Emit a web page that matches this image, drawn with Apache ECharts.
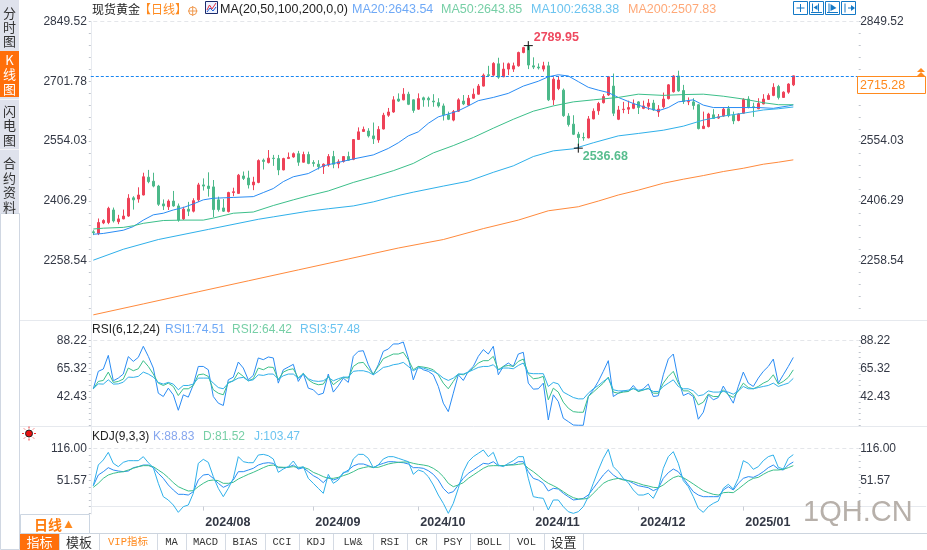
<!DOCTYPE html>
<html>
<head>
<meta charset="utf-8">
<style>html,body{margin:0;padding:0;background:#fff}#main{width:927px;height:550px}</style>
<script src="https://cdn.jsdelivr.net/npm/echarts@6/dist/echarts.min.js"></script>
</head>
<body>
<div id="main"></div>
<script>
// price ticks and indicator ticks as printed on the axes
const priceTicks = [2849.52, 2701.78, 2554.03, 2406.29, 2258.54]
const rsiTicks = [88.22, 65.32, 42.43]
const kdjTicks = [116.00, 51.57]
const monthLabels = ['2024/08', '2024/09', '2024/10', '2024/11', '2024/12', '2025/01']
const monthBars = [22, 44, 65, 88, 109, 130]

const opens = [2330,2326,2352,2353,2384,2355,2362,2369,2414,2411,
  2421,2465,2455,2443,2399,2392,2406,2394,2362,2386,
  2381,2409,2446,2443,2441,2409,2389,2380,2427,2425,
  2468,2463,2446,2452,2507,2501,2512,2511,2483,2511,
  2515,2523,2502,2521,2501,2497,2491,2495,2516,2498,
  2504,2516,2509,2558,2578,2579,2567,2557,2584,2618,
  2626,2658,2656,2670,2656,2633,2661,2660,2653,2649,
  2641,2619,2606,2628,2653,2643,2660,2670,2690,2718,
  2717,2745,2713,2732,2732,2740,2773,2788,2740,2737,
  2732,2740,2656,2684,2680,2616,2596,2571,2563,2562,
  2609,2629,2649,2668,2690,2608,2632,2633,2635,2651,
  2635,2640,2648,2626,2639,2659,2676,2715,2679,2651,
  2651,2644,2585,2590,2619,2611,2616,2634,2618,2605,
  2623,2658,2639,2634,2646,2657,2667,2689,2662,2675,
  2693]
const closes = [2328,2353,2358,2388,2357,2362,2369,2413,2409,2421,
  2466,2454,2443,2398,2394,2406,2394,2359,2386,2381,
  2407,2446,2443,2437,2385,2385,2381,2427,2429,2470,
  2462,2446,2453,2506,2504,2512,2511,2483,2511,2514,
  2523,2502,2521,2499,2499,2491,2497,2516,2497,2503,
  2516,2507,2558,2577,2583,2567,2560,2583,2618,2626,
  2656,2653,2670,2645,2630,2659,2656,2656,2651,2641,
  2619,2608,2627,2656,2646,2660,2670,2690,2717,2716,
  2746,2712,2732,2745,2740,2773,2785,2742,2737,2735,
  2740,2656,2707,2705,2617,2595,2571,2563,2562,2609,
  2628,2647,2664,2713,2623,2631,2633,2637,2646,2637,
  2641,2648,2631,2633,2658,2693,2715,2678,2652,2652,
  2642,2585,2591,2621,2610,2614,2633,2617,2604,2621,
  2657,2637,2637,2647,2658,2667,2687,2662,2675,2695,
  2715.28]
const lows = [2322,2322,2349,2349,2353,2349,2361,2367,2385,2402,
  2420,2450,2440,2394,2384,2384,2392,2355,2359,2369,
  2378,2404,2432,2417,2366,2380,2379,2378,2418,2424,
  2458,2437,2433,2450,2484,2499,2493,2470,2482,2510,
  2513,2493,2501,2497,2491,2484,2473,2491,2487,2487,
  2501,2506,2507,2557,2577,2563,2547,2550,2583,2614,
  2624,2651,2655,2643,2624,2631,2639,2639,2639,2637,
  2605,2606,2603,2626,2643,2641,2658,2669,2689,2713,
  2715,2708,2712,2717,2725,2738,2771,2732,2732,2731,
  2726,2653,2643,2680,2614,2590,2569,2536.68,2555,2561,
  2608,2619,2647,2666,2616,2606,2623,2621,2633,2621,
  2633,2631,2629,2614,2635,2657,2674,2676,2646,2643,
  2632,2583,2584,2588,2609,2609,2614,2613,2596,2603,
  2621,2635,2614,2633,2645,2656,2665,2657,2661,2671,
  2690]
const highs = [2334,2363,2361,2392,2390,2372,2385,2423,2418,2440,
  2476,2483,2476,2446,2410,2410,2431,2400,2392,2404,
  2413,2451,2462,2477,2458,2417,2411,2429,2439,2473,
  2479,2481,2466,2509,2511,2532,2520,2520,2513,2526,
  2526,2530,2528,2528,2507,2507,2499,2522,2530,2509,
  2517,2528,2559,2588,2590,2586,2600,2591,2624,2636,
  2665,2672,2685,2676,2657,2672,2664,2664,2670,2660,
  2647,2627,2631,2660,2668,2668,2684,2695,2721,2740,
  2749,2760,2748,2748,2748,2775,2787,2789.95,2761,2746,
  2750,2750,2712,2715,2684,2623,2618,2577,2575,2616,
  2635,2651,2670,2715,2721,2641,2651,2654,2657,2653,
  2654,2658,2656,2643,2674,2695,2717,2728,2693,2662,
  2660,2646,2627,2624,2633,2621,2637,2641,2627,2623,
  2660,2665,2649,2660,2670,2672,2697,2693,2677,2697,
  2715.5]

// moving averages read at their bends: [bar, price]
const ma20 = [[0,2324],[2,2326],[6,2334],[8,2343],[10,2359],[12,2372],[14,2376],[16,2384],[18,2390],[20,2399],
  [22,2409],[24,2413],[28,2415],[32,2417],[34,2427],[36,2437],[38,2454],[40,2466],[43,2474],[46,2493],
  [52,2510],[56,2520],[59,2536],[61,2550],[63,2567],[65,2577],[67,2598],[69,2614],[71,2621],[73,2629],
  [75,2641],[77,2654],[80,2662],[83,2672],[86,2690],[89,2702],[91,2713],[93,2718],[95,2715],[97,2701],
  [99,2687],[101,2680],[103,2674],[105,2662],[108,2647],[111,2635],[113,2629],[115,2637],[117,2651],[120,2656],
  [122,2643],[124,2637],[127,2637],[133,2637],[136,2635],[139,2641],[140,2643.54]]
const ma50 = [[0,2337],[2,2339],[6,2341],[8,2345],[10,2351],[14,2358],[18,2359],[22,2359],[24,2364],[28,2376],
  [32,2379],[36,2395],[40,2409],[43,2419],[47,2431],[52,2452],[56,2466],[60,2481],[64,2499],[68,2525],
  [72,2543],[76,2563],[80,2586],[84,2608],[88,2628],[92,2641],[96,2651],[100,2656],[105,2662],[109,2670],
  [114,2667],[118,2669],[122,2670],[126,2665],[130,2658],[134,2649],[137,2644],[140,2643.85]]
const ma100 = [[0,2260],[6,2287],[13,2311],[23,2336],[33,2361],[36,2367],[43,2381],[47,2387],[52,2394],[56,2404],
  [60,2417],[64,2428],[70,2443],[75,2455],[80,2477],[84,2493],[88,2516],[92,2530],[96,2535],[100,2550],
  [105,2567],[109,2573],[114,2581],[118,2591],[122,2606],[126,2616],[130,2623],[134,2631],[137,2634],[140,2638.38]]
const ma200 = [[0,2125],[10,2152],[21,2182],[31,2209],[41,2236],[51,2263],[61,2290],[70,2311],[78,2338],[85,2359],
  [91,2382],[97,2392],[101,2406],[105,2421],[109,2433],[114,2450],[118,2460],[122,2469],[126,2479],[130,2487],
  [134,2497],[137,2502],[140,2507.83]]

const rsi1 = [49,63.2,65.1,76.2,55.5,57.7,61,75.2,71.3,74.6,83.6,75.4,65.9,45.4,42.7,49.5,44.1,31.5,44.1,42.2,
  52.3,67.2,67.2,64.5,42.7,37.3,35.4,56.3,58.5,70.8,65.9,56.3,59.9,74.1,72.7,74.9,74.1,53.6,64.5,66.7,
  68.9,55,61.5,49.5,48.2,44.1,45.4,61,46.3,51.4,57.7,54.2,75.4,79.5,80,68.6,60.4,68.6,79.5,81.4,
  85.5,85.5,87.1,74.1,56.3,67.2,64.5,63.2,60.4,50.9,37.3,30.4,45.4,60.4,55.8,63.2,67.2,75.4,80.9,77.3,
  83.6,60.4,67.2,70,67.2,77.3,78.7,53.6,48.7,49,53.6,23.6,44.1,38.6,25,22.3,19.5,19.3,19.3,42.7,
  48.2,55,63.2,71.9,42.7,45.4,47.3,46.8,51.7,46.8,49,52.8,42.7,43.3,60.4,73.2,77.3,56.3,43.5,45.4,
  42.7,24.2,29.9,44.1,40,41.9,51.2,44.1,37.3,50.9,62.6,53.6,50.9,57.7,63.2,67.2,73.2,53.6,60.4,67.2,74.51]
const rsi2 = [49,55,55.8,62.6,54.2,55,56.9,65.9,63.7,65.3,71.9,67.2,61,53.6,51.7,53.6,50.9,43.5,49,49,
  51.7,60.4,61,59.1,48.2,45.4,44.1,54.2,55.5,62.3,59.1,55.5,57.2,65.9,64.5,66.7,66.4,56.3,62.6,64.5,
  65.3,57.7,61.5,56.3,53.6,52.3,52.8,59.1,52.3,55.5,58.3,57.7,67.2,70,70.5,65.3,61,67.2,73.5,75.4,
  77.3,77.3,78.7,72.7,64.5,67.2,66.7,65.9,64.5,60.4,53.6,49,55,61,60.4,62.6,65.9,70,71.9,71.9,
  75.4,64.5,67.2,68,67.2,71.3,73.2,61,57.2,57.7,59.1,40,49.5,46.3,38.1,33.2,30.4,29.9,29.9,42.7,
  46.3,50,53.6,58.5,46.3,45.4,46.3,46.8,49.5,46.8,47.9,49.5,45.4,45.4,53.6,59.1,63.2,53.6,47.3,47.3,
  44.1,35.9,38.1,44.6,42.7,42.7,48.2,44.1,41.9,47.3,53.6,50,49,50.9,53.6,55.5,60.4,52.8,55,58.3,64.42]
const rsi3 = [49,53,52.8,56.3,52.8,53,54.4,58.5,58.3,59.1,62.6,61,58.5,54.2,52.8,54.2,52.8,48.2,51.7,51.7,
  52.8,57.7,57.7,57.7,53.6,50,49,53.6,55.5,57.7,58.3,55.5,56.3,60.4,59.9,61,61,56.9,59.6,61,
  61,57.7,61,57.2,55.5,55,55.5,58.3,55.5,57.2,58.5,58.5,63.2,63.7,63.7,62.6,60.4,63.2,66.4,67.2,
  68.6,69.2,70.5,67.2,63.7,65.9,65.9,64.5,63.2,61,57.7,55.8,57.7,61,61,62.6,64.5,66.4,67.2,67.2,
  68.6,64.5,65.9,65.9,65.3,68,70,61.8,61.3,61.3,61.3,50.9,54.2,53,46.3,44.1,41.9,40.8,40.8,45.4,
  49,51.7,55,57.7,48.2,47.3,47.3,47.9,49,47.9,48.2,49,46.8,46.8,50.9,53.6,56.3,50.9,49,49,
  47.3,43.3,44.1,47.3,46.3,46.3,46.8,46.3,44.6,47.3,50.9,49,49,50,50.9,51.7,53.6,50.9,52.3,53.6,57.48]

const kdjK = [41.6,62.9,69.5,77.5,72.8,70.8,69.5,70.8,77.5,79.5,82.8,82.8,77.5,66.2,56.2,43,33,24.4,24.4,23,
  29.7,52.9,62.9,64.2,56.2,46.3,38.3,43,52.9,69.5,69.5,72.8,76.2,82.8,86.1,87.4,86.1,77.5,77.5,78.2,
  82.8,74.8,77.5,69.5,61.6,56.2,47.6,58.2,52.9,56.2,66.2,72.8,80.8,84.8,84.8,81.5,77.5,82.8,86.1,89.4,
  89.4,88.1,87.4,84.8,77.5,77.5,76.2,71.5,64.2,52.9,36.3,26.4,29.7,43,56.2,66.2,72.8,79.5,86.1,84.8,
  89.4,81.5,81.5,82.8,84.1,89.4,89.4,69.5,56.2,52.9,46.3,31,36.3,35,26.4,19.7,13.1,14.4,16.4,23,
  36.3,49.6,62.9,72.8,62.9,56.2,54.3,51.6,46.3,41.6,39.6,37.6,31.7,36.3,56.2,67.5,74.8,69.5,56.2,43,
  29.7,23,19.7,19.7,19.7,19.7,33,39.6,33,46.3,56.2,59.6,58.2,62.9,69.5,77.5,82.8,74.8,72.8,82.8,88.83]
const kdjD = [38.3,46.3,56.2,62.9,66.2,68.2,69.5,72.8,76.2,79.5,81.5,81.5,79.5,72.8,66.2,57.6,47.6,39.6,35,31,
  31.7,39.6,46.3,51.6,52.9,51.6,46.3,46.3,48.3,54.9,59.6,64.2,68.2,72.8,77.5,81.5,82.8,78.8,78.2,78.2,
  79.5,78.2,78.2,74.8,68.2,64.2,59.6,56.2,56.2,58.2,61.6,64.9,69.5,74.8,77.5,79.5,78.2,78.2,81.5,84.8,
  86.8,88.1,88.8,88.8,86.1,84.1,82.8,80.8,76.2,69.5,59.6,46.3,39.6,43,47.6,56.2,62.9,69.5,76.2,80.8,
  81.5,81.5,81.5,82.8,82.8,84.1,85.5,76.2,69.5,61.6,52.9,46.3,41.6,36.3,29.7,23,17.7,15.1,15.1,16.4,
  26.4,36.3,46.3,51.6,54.3,56.2,52.9,51.6,49.6,46.3,43,41,38.3,37.6,43,50.9,57.6,60.9,57.6,51.6,
  45,38.3,31.7,27.7,24.4,23,27.7,28.4,27.7,35,43,50.9,56.2,58.2,64.2,69.5,72.8,72.8,74.2,77.5,81.52]
const kdjJ = [41.6,82.8,92.8,108,86.1,79.5,88.1,91.4,91.4,91.4,99.4,87.4,77.5,46.3,19.7,13.1,3.1,-11.5,-0.2,3.1,
  26.4,86.1,94.1,88.1,59.6,36.3,19.7,36.3,56.2,99.4,89.4,87.4,87.4,102.7,104,101.4,94.8,68.2,74.8,79.5,
  90.8,76.2,79.5,56.2,46.3,36.3,26.4,64.2,46.3,52.9,68.2,69.5,94.8,104,104,96.1,77.5,82.8,94.8,99.4,
  99.4,96.1,92.8,89.4,64.2,72.8,69.5,59.6,43,23,6.4,-13.5,6.4,36.3,69.5,89.4,99.4,106,112.7,99.4,
  108,82.8,79.5,86.1,91.4,99.4,99.4,56.2,19.7,17.7,16.4,-6.8,13.1,13.1,-0.2,-10.2,-13.5,-10.2,-0.2,19.7,
  46.3,72.8,96.1,114,79.5,69.5,56.2,47.6,33,23,23,26.4,16.4,36.3,76.2,99.4,109.4,86.1,51.6,39.6,
  19.7,-3.5,-11.5,-0.2,6.4,11.1,36.3,44.3,35,56.2,91.4,86.1,74.2,79.5,91.4,99.4,102.7,78.2,74.8,96.1,103.47]

const RED = '#ee4258', GREEN = '#4cb98a', BLUE = '#2a8cf4', TEAL = '#3cbf8a', SKY = '#2fb0ea', ORANGE = '#ff8a3c'
const TEXT = '#333845', SANS = '"Liberation Sans", Arial, sans-serif', CJK = '"Noto Sans CJK SC", sans-serif'

// 167 bar slots, 5px each, so the dashed last-price line can run to the window edge
const SLOTS = 167
const categories = new Array(SLOTS).fill('')
monthBars.forEach((b, i) => { categories[b] = monthLabels[i] })
const candles = opens.map((o, i) => [o, closes[i], lows[i], highs[i]])

function subTicks(ticks, max, min) {
  const step = (ticks[0] - ticks[1]) / 5
  const out = []
  for (let v = ticks[0]; v > min; v -= step) out.push(+v.toFixed(2))
  return out
}

const panels = [
  { top: 21.5, height: 298, max: 2849.52, min: 2113.5, ticks: priceTicks },
  { top: 321, height: 105, max: 104.2, min: 18.7, ticks: rsiTicks },
  { top: 427, height: 87, max: 158.5, min: -14.8, ticks: kdjTicks }
]
const fmt = v => v.toFixed(2)

const grids = panels.map(p => ({ left: 90.8, width: 835, top: p.top, height: p.height }))
const xAxes = panels.map((p, i) => ({
  type: 'category', gridIndex: i, data: categories, boundaryGap: true,
  axisLine: { show: i === 2, lineStyle: { color: '#e6e9ee' } },
  axisTick: { show: i === 2, alignWithLabel: true, length: 4, lineStyle: { color: '#c8ccd4' }, interval: (n, v) => v !== '' },
  axisLabel: {
    show: i === 2, align: 'left', margin: 2, padding: [0, 0, 0, 2], color: TEXT,
    fontFamily: SANS, fontSize: 12.5, fontWeight: 'bold', interval: (n, v) => v !== ''
  },
  splitLine: { show: false }
}))
const yAxes = []
panels.forEach((p, i) => {
  const base = {
    type: 'value', gridIndex: i, min: p.min, max: p.max, splitLine: { show: false },
    axisTick: { show: true, length: 2, lineStyle: { color: '#bfc4cc' }, customValues: subTicks(p.ticks, p.max, p.min) }
  }
  yAxes.push({ ...base, position: 'left', axisLine: { show: true, lineStyle: { color: '#e8ebf0' } },
    axisLabel: { customValues: p.ticks, formatter: fmt, margin: 4, color: TEXT, fontFamily: SANS, fontSize: 12 } })
  yAxes.push({ ...base, position: 'right', offset: -67.1, axisLine: { show: false },
    axisLabel: { customValues: p.ticks, formatter: fmt, margin: 1.5, color: TEXT, fontFamily: SANS, fontSize: 12 } })
})

function line(name, data, color, idx) {
  return { name, type: 'line', data, xAxisIndex: idx, yAxisIndex: idx * 2, showSymbol: false, silent: true,
    lineStyle: { color, width: 1 }, itemStyle: { color }, z: 3 }
}
const lightDash = v => [
  { coord: [0, v], lineStyle: { color: '#e4e6ea', type: [4, 3], width: 1 } },
  { coord: [153, v] }
]
function guide(series, v) {
  series.markLine = { symbol: 'none', silent: true, label: { show: false }, data: [lightDash(v)], animation: false }
  return series
}

const CROSS = 'path://M0 5H10M5 0V10'
const extremeMark = (bar, v, color, offset) => ({
  coord: [bar, v], symbol: CROSS, symbolSize: 9,
  itemStyle: { color: 'none', borderColor: '#111', borderWidth: 1 },
  label: { show: true, formatter: fmt(v), color, fontFamily: SANS, fontSize: 12.5, fontWeight: 'bold', position: 'inside', offset }
})

const ma20Series = line('MA20', ma20, BLUE, 0)
ma20Series.markLine = {
  symbol: 'none', silent: true, label: { show: false }, animation: false,
  data: [
    { yAxis: closes[closes.length - 1], lineStyle: { color: '#1a86f2', type: [3, 2], width: 1 } },
    lightDash(priceTicks[0])
  ]
}
ma20Series.markPoint = {
  silent: true, animation: false,
  data: [extremeMark(87, 2789.95, '#ee4a60', [28, -8]), extremeMark(97, 2536.68, '#58bd8e', [27, 8])]
}

const series = [
  { type: 'candlestick', data: candles, xAxisIndex: 0, yAxisIndex: 0, barWidth: 3, silent: true, z: 2,
    itemStyle: { color: RED, color0: GREEN, borderColor: RED, borderColor0: GREEN, borderWidth: 1 } },
  ma20Series,
  line('MA50', ma50, TEAL, 0),
  line('MA100', ma100, SKY, 0),
  line('MA200', ma200, ORANGE, 0),
  guide(line('RSI1', rsi1, BLUE, 1), rsiTicks[0]),
  line('RSI2', rsi2, TEAL, 1),
  line('RSI3', rsi3, SKY, 1),
  guide(line('K', kdjK, BLUE, 2), kdjTicks[0]),
  line('D', kdjD, TEAL, 2),
  line('J', kdjJ, SKY, 2)
]

// chrome around the plot: header text, side tabs, bottom tabs
const g = []
const txt = (x, y, text, fill, size, family, extra) => g.push({
  type: 'text', z: 20, style: { x, y, text, fill, font: (extra && extra.weight || 'normal') + ' ' + size + 'px ' + (family || SANS),
    textAlign: extra && extra.align || 'left', textVerticalAlign: 'middle' }
})
const rect = (x, y, width, height, fill, stroke, z) => g.push({
  type: 'rect', z: z || 15, shape: { x, y, width, height }, style: { fill: fill || 'none', stroke: stroke || 'none', lineWidth: 1 }
})
const hline = (x1, y1, x2, y2, stroke, z) => g.push({
  type: 'line', z: z || 15, shape: { x1, y1, x2, y2 }, style: { stroke, lineWidth: 1 }
})
const poly = (points, stroke, z) => g.push({ type: 'polyline', z: z || 21, shape: { points }, style: { stroke, fill: 'none', lineWidth: 1 } })

// panel separators
hline(20, 320.5, 927, 320.5, '#e6e9ee')
hline(20, 426.5, 927, 426.5, '#e6e9ee')
hline(20, 533.5, 927, 533.5, '#ccd4de')

// left column
rect(0, 0, 19, 213, '#dfe2ec')
rect(0.5, 213.5, 19, 336, '#ffffff', '#d0d7e2')
rect(0, 51, 19, 46, '#ff6f0a')
hline(0, 99.5, 19, 99.5, '#f4f5f8'); hline(0, 149.5, 19, 149.5, '#f4f5f8')
const sideTabs = [
  { chars: '分时图', top: 13, step: 14, fill: '#333' },
  { chars: 'K线图', top: 60, step: 14.5, fill: '#fff' },
  { chars: '闪电图', top: 111, step: 14.5, fill: '#333' },
  { chars: '合约资料', top: 163, step: 14.7, fill: '#333' }
]
sideTabs.forEach(t => [...t.chars].forEach((c, i) => txt(9.5, t.top + i * t.step, c, t.fill, 13, CJK, { align: 'center' })))

// header line of the price panel
txt(92, 9.5, '现货黄金', '#222', 12, CJK)
txt(139, 9.5, '【日线】', '#ff8a1e', 12, CJK)
g.push({ type: 'circle', z: 20, shape: { cx: 192.7, cy: 11, r: 4 }, style: { fill: 'none', stroke: '#f09a50', lineWidth: 1 } })
hline(188, 11, 197.5, 11, '#f09a50', 20); hline(192.7, 6, 192.7, 16, '#f09a50', 20)
rect(205.5, 1.5, 12, 12, '#eef2ff', '#1b2a6b', 20)
poly([[207, 10], [209.5, 5], [212, 9], [216, 3]], '#e03040')
poly([[207, 12], [210, 8], [213, 11], [216, 7]], '#2060d0')
txt(220, 9.5, 'MA(20,50,100,200,0,0)', '#222', 12.5)
txt(352, 9.5, 'MA20:2643.54', '#6fa9f6', 12.5)
txt(441, 9.5, 'MA50:2643.85', '#77cfa6', 12.5)
txt(531, 9.5, 'MA100:2638.38', '#6cc4f0', 12.5)
txt(628, 9.5, 'MA200:2507.83', '#ffa877', 12.5)

// tool icons, top right
const ICON = '#1479c6'
;[794, 810, 826, 842].forEach(x => rect(x - 0.5, 1.5, 14, 13, '#fff', ICON, 20))
hline(800.5, 4, 800.5, 12, ICON, 21); hline(796.5, 8, 804.5, 8, ICON, 21)
;[812.5, 818.5].forEach(x => hline(x, 3.5, x, 11.5, ICON, 21)); poly([[811, 12.5], [822, 12.5]], ICON)
g.push({ type: 'polygon', z: 21, shape: { points: [[813.5, 7.5], [817.5, 5], [817.5, 10]] }, style: { fill: ICON } })
hline(829, 3.5, 829, 12.5, ICON, 21); hline(827, 12.5, 838, 12.5, ICON, 21)
g.push({ type: 'polygon', z: 21, shape: { points: [[830.5, 4], [836.5, 8], [830.5, 11]] }, style: { fill: ICON } })
hline(845, 3.5, 845, 12.5, ICON, 21); hline(848, 8, 854, 8, ICON, 21)
g.push({ type: 'polygon', z: 21, shape: { points: [[851, 5], [855, 8], [851, 11]] }, style: { fill: ICON } })

// last price box over the right axis
rect(857.5, 76.5, 68, 17, '#fff', '#ff8a1e', 18)
txt(860, 85.5, fmt(closes[closes.length - 1]), '#ff8a1e', 12.5, SANS)
g.push({ type: 'polygon', z: 21, shape: { points: [[921, 68], [925, 72], [917, 72]] }, style: { fill: '#ff8a1e' } })
g.push({ type: 'polygon', z: 21, shape: { points: [[921, 72], [925, 76], [917, 76]] }, style: { fill: '#ff8a1e' } })

// indicator headers
txt(92, 330, 'RSI(6,12,24)', '#222', 12)
txt(165, 330, 'RSI1:74.51', '#6fa9f6', 12)
txt(232, 330, 'RSI2:64.42', '#77cfa6', 12)
txt(300, 330, 'RSI3:57.48', '#6cc4f0', 12)
txt(92, 437, 'KDJ(9,3,3)', '#222', 12)
txt(153, 437, 'K:88.83', '#86a6ee', 12)
txt(203, 437, 'D:81.52', '#77cfa6', 12)
txt(254, 437, 'J:103.47', '#6cc4f0', 12)

// indicator switch icon
g.push({ type: 'circle', z: 20, shape: { cx: 29, cy: 433.5, r: 3.5 }, style: { fill: '#e81010', stroke: '#222', lineWidth: 1 } })
;[[0, -7, 0, -5], [0, 5, 0, 7], [-7, 0, -5, 0], [5, 0, 7, 0], [-5, -5, -4, -4], [4, 4, 5, 5], [-5, 5, -4, 4], [4, -4, 5, -5]]
  .forEach(s => hline(29 + s[0], 433.5 + s[1], 29 + s[2], 433.5 + s[3], '#f03030', 20))

// period selector
rect(20.5, 514.5, 69, 19, '#fff', '#ccd6e2', 16)
txt(34, 525, '日线', '#ff7d0f', 14, CJK, { weight: 'bold' })
g.push({ type: 'polygon', z: 21, shape: { points: [[68.5, 520.5], [72.5, 528], [64.5, 528]] }, style: { fill: '#ff8a1e' } })

// bottom tabs
const tabNames = ['指标', '模板', 'VIP指标', 'MA', 'MACD', 'BIAS', 'CCI', 'KDJ', 'LW&', 'RSI', 'CR', 'PSY', 'BOLL', 'VOL', '设置']
const tabEdges = [20, 59, 99, 157, 186, 225, 265, 299, 333, 373, 407, 436, 470, 509, 544, 583]
rect(20, 534, 39, 16, '#ff6f0a')
tabEdges.forEach((x, i) => { if (i > 0) hline(x + 0.5, 534, x + 0.5, 550, '#d4dae3') })
tabNames.forEach((n, i) => {
  const fill = i === 0 ? '#fff' : i === 2 ? '#ff8a1e' : '#333'
  const cjkOnly = /^[\u4e00-\u9fff]+$/.test(n)
  const size = cjkOnly ? 13 : 10.5
  txt((tabEdges[i] + tabEdges[i + 1]) / 2, 542.5, n, fill, size, cjkOnly ? CJK : '"Liberation Mono", "Noto Sans CJK SC", monospace', { align: 'center' })
})

// watermark
g.push({ type: 'text', z: 22, style: { x: 803, y: 513, text: '1QH.CN', fill: '#b7b0aa', font: '29px ' + SANS,
  textVerticalAlign: 'middle', shadowColor: 'rgba(120,110,100,0.5)', shadowBlur: 2 } })

const chart = echarts.init(document.getElementById('main'), null, { renderer: 'canvas' })
chart.setOption({
  animation: false, backgroundColor: '#fff', tooltip: { show: false },
  grid: grids, xAxis: xAxes, yAxis: yAxes, series, graphic: { elements: g }
})
</script>
</body>
</html>
